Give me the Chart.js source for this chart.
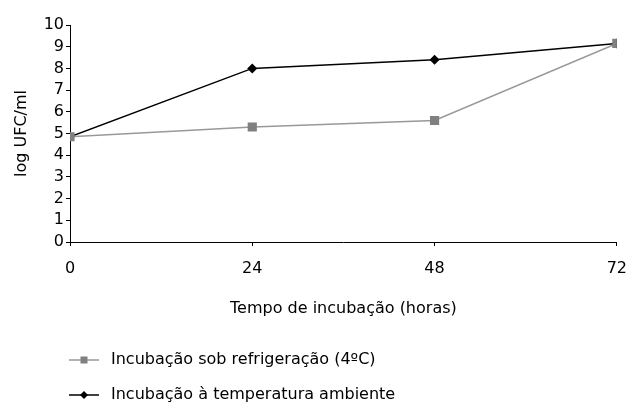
<!DOCTYPE html>
<html>
<head>
<meta charset="utf-8">
<script src="https://cdn.jsdelivr.net/npm/chart.js@4.4.0/dist/chart.umd.min.js"></script>
<style>
html,body{margin:0;padding:0;background:#fff;}
#wrap{width:640px;height:408px;position:relative;}
</style>
</head>
<body>
<div id="wrap"><canvas id="c" width="640" height="408"></canvas></div>
<script>
const hours = [0, 24, 48, 72];
const refrigeracao = [4.85, 5.3, 5.6, 9.15];
const ambiente = [4.85, 8.0, 8.4, 9.15];
const seriesLabels = ['Incubação sob refrigeração (4ºC)', 'Incubação à temperatura ambiente'];
const yTicks = [0,1,2,3,4,5,6,7,8,9,10];
const xTitle = 'Tempo de incubação (horas)';
const yTitle = 'log UFC/ml';

const FONT = "'DejaVu Sans', sans-serif";
const FS = 16;

const legendPlugin = {
  id: 'customLegend',
  afterDraw(chart) {
    const ctx = chart.ctx;
    const rows = [360, 395];
    const x0 = 69, x1 = 99, tx = 111;
    chart.data.datasets.forEach((ds, i) => {
      const y = rows[i];
      ctx.save();
      ctx.strokeStyle = ds.borderColor;
      ctx.lineWidth = ds.borderWidth;
      ctx.beginPath(); ctx.moveTo(x0, y); ctx.lineTo(x1, y); ctx.stroke();
      const cx = (x0 + x1) / 2;
      ctx.fillStyle = ds.pointBackgroundColor;
      if (ds.pointStyle === 'rect') {
        ctx.fillRect(cx - 3.5, y - 3.5, 7, 7);
      } else {
        ctx.beginPath();
        ctx.moveTo(cx, y - 4); ctx.lineTo(cx + 4, y); ctx.lineTo(cx, y + 4); ctx.lineTo(cx - 4, y);
        ctx.closePath(); ctx.fill();
      }
      ctx.fillStyle = '#000';
      ctx.font = FS + "px " + FONT;
      ctx.textBaseline = 'middle';
      ctx.textAlign = 'left';
      ctx.fillText(ds.label, tx, y);
      ctx.restore();
    });
  }
};

new Chart(document.getElementById('c'), {
  type: 'line',
  data: {
    datasets: [
      {
        label: seriesLabels[0],
        data: hours.map((h, i) => ({x: h, y: refrigeracao[i]})),
        borderColor: '#999999',
        backgroundColor: '#808080',
        pointBackgroundColor: '#808080',
        pointBorderColor: '#808080',
        borderWidth: 1.5,
        pointStyle: 'rect',
        pointRadius: 6.5,
        pointBorderWidth: 0,
        tension: 0
      },
      {
        label: seriesLabels[1],
        data: hours.map((h, i) => ({x: h, y: ambiente[i]})),
        borderColor: '#000000',
        backgroundColor: '#000000',
        pointBackgroundColor: '#000000',
        pointBorderColor: '#000000',
        borderWidth: 1.5,
        pointStyle: 'rectRot',
        pointRadius: 5,
        pointBorderWidth: 0,
        tension: 0
      }
    ]
  },
  options: {
    responsive: false,
    animation: false,
    layout: { padding: { left: 8, right: 22, top: 25, bottom: 86 } },
    plugins: { legend: { display: false }, tooltip: { enabled: false } },
    scales: {
      x: {
        type: 'linear',
        min: 0, max: 72,
        afterBuildTicks(s) { s.ticks = hours.map(v => ({value: v})); },
        afterFit(s) { s.height = 80; },
        ticks: { color: '#000', font: { family: FONT, size: FS }, padding: 13, autoSkip: false, maxRotation: 0 },
        grid: { display: true, drawOnChartArea: false, drawTicks: true, tickLength: 4, color: '#000' },
        border: { display: true, color: '#000', width: 1 },
        title: { display: true, text: xTitle, color: '#000', font: { family: FONT, size: FS }, padding: { top: 4, bottom: 4 } }
      },
      y: {
        min: 0, max: 10,
        afterBuildTicks(s) { s.ticks = yTicks.map(v => ({value: v})); },
        afterFit(s) { s.width = 62; },
        ticks: { color: '#000', font: { family: FONT, size: FS }, padding: 2, autoSkip: false },
        grid: { display: true, drawOnChartArea: false, drawTicks: true, tickLength: 4, color: '#000' },
        border: { display: true, color: '#000', width: 1 },
        title: { display: true, text: yTitle, color: '#000', font: { family: FONT, size: FS }, padding: { top: 4, bottom: 4 } }
      }
    }
  },
  plugins: [legendPlugin]
});
</script>
</body>
</html>
